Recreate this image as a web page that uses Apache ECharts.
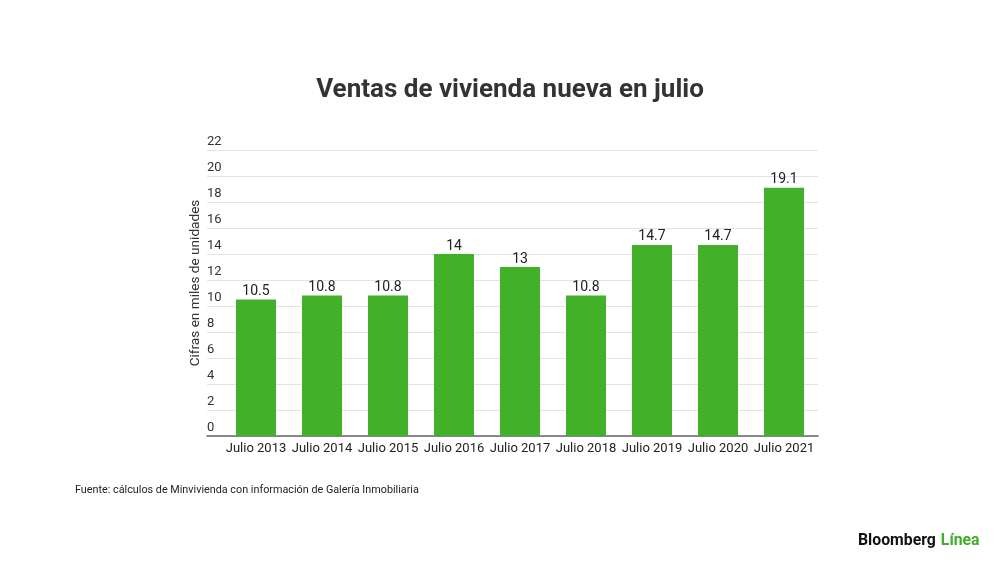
<!DOCTYPE html>
<html><head><meta charset="utf-8">
<script src="https://cdn.jsdelivr.net/npm/echarts@6/dist/echarts.min.js"></script>
<style>html,body{margin:0;padding:0;background:#fff}#c{width:1000px;height:562px}</style>
</head><body><div id="c"></div>
<script>
const categories = ['Julio 2013','Julio 2014','Julio 2015','Julio 2016','Julio 2017','Julio 2018','Julio 2019','Julio 2020','Julio 2021'];
const ventas = [10.5, 10.8, 10.8, 14, 13, 10.8, 14.7, 14.7, 19.1];
const yMin = 0, yMax = 22, yStep = 2;
const yAxisName = 'Cifras en miles de unidades';

const font = 'Roboto, "Noto Sans", sans-serif';
const chart = echarts.init(document.getElementById('c'));
chart.setOption({
  backgroundColor: '#fff',
  animation: false,
  title: [
    {text: 'Ventas de vivienda nueva en julio', left: 505, top: 72, textAlign: 'center',
     textStyle: {fontFamily: font, fontSize: 26, fontWeight: 'bold', color: '#333'}},
    {text: 'Fuente: cálculos de Minvivienda con información de Galería Inmobiliaria', left: 70, top: 480,
     textStyle: {fontFamily: font, fontSize: 10.8, fontWeight: 'normal', color: '#222'}},
    {text: '{a|Bloomberg} {b|Línea}', left: 853, top: 527,
     textStyle: {rich: {
       a: {fontFamily: font, fontSize: 15.8, fontWeight: 'bold', color: '#111'},
       b: {fontFamily: font, fontSize: 15.8, fontWeight: 'bold', color: '#3fae2a'}}}}
  ],
  graphic: [{
    type: 'text', x: 196, y: 283, rotation: Math.PI / 2,
    style: {text: yAxisName, align: 'center', verticalAlign: 'middle',
            font: '13.6px ' + font, fill: '#333'}
  }],
  grid: [
    {left: 207, right: 182, top: 150, bottom: 126},
    {left: 223, right: 183, top: 150, bottom: 126}
  ],
  xAxis: [
    {type: 'value', gridIndex: 0, min: 0, max: 1, show: true,
     axisLine: {show: true, onZero: false, lineStyle: {color: '#666', width: 1.5}},
     axisTick: {show: false}, axisLabel: {show: false}, splitLine: {show: false}},
    {type: 'category', gridIndex: 1, data: categories,
     axisLine: {show: false}, axisTick: {show: false},
     axisLabel: {fontFamily: font, fontSize: 13, color: '#222', margin: 6, interval: 0}}
  ],
  yAxis: [
    {type: 'value', gridIndex: 0, min: yMin, max: yMax, interval: yStep,
     axisLine: {show: false}, axisTick: {show: false},
     axisLabel: {inside: true, margin: 0, verticalAlign: 'bottom', padding: [0,0,2,0],
                 fontFamily: font, fontSize: 13, color: '#333'},
     splitLine: {lineStyle: {color: '#e3e3e3', width: 1}}},
    {type: 'value', gridIndex: 1, min: yMin, max: yMax, interval: yStep, show: false}
  ],
  series: [{
    type: 'bar', xAxisIndex: 1, yAxisIndex: 1, data: ventas, barWidth: 40,
    itemStyle: {color: '#43b02a'},
    label: {show: true, position: 'top', distance: 1, fontFamily: font, fontSize: 14, color: '#222'}
  }]
});
</script></body></html>
